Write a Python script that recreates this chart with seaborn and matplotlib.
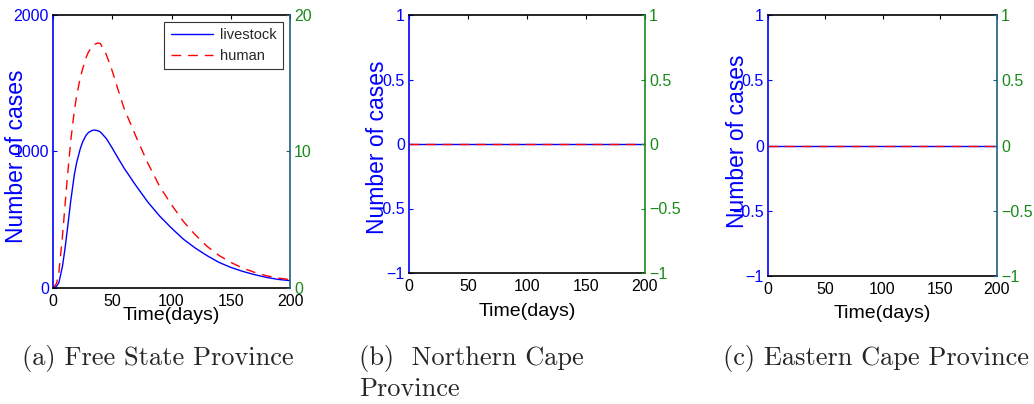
import numpy as np
import pandas as pd
import seaborn as sns
import matplotlib
matplotlib.use("Agg")
import matplotlib.pyplot as plt

# ---- data ----
time_days = [0, 3, 5, 8, 10, 12, 15, 18, 20, 23, 25, 28, 30, 33, 35, 38, 40, 45, 50, 55,
             60, 70, 80, 90, 100, 110, 120, 130, 140, 150, 160, 170, 180, 190, 200]
fs_livestock = [0, 12, 40, 160, 280, 420, 640, 830, 920, 1020, 1070, 1120, 1140, 1154,
                1157, 1152, 1143, 1095, 1025, 950, 878, 750, 630, 527, 439, 358, 293,
                237, 188, 151, 122, 98, 78, 63, 54]
fs_human = [0, 34, 120, 380, 590, 800, 1080, 1300, 1410, 1540, 1605, 1690, 1730, 1770,
            1785, 1795, 1790, 1710, 1590, 1450, 1315, 1110, 915, 744, 610, 488, 390,
            305, 239, 188, 146, 115, 90, 73, 61]
nc_livestock = [0] * len(time_days)
nc_human = [0] * len(time_days)
ec_livestock = [0] * len(time_days)
ec_human = [0] * len(time_days)

captions = ["(a) Free State Province", "(b)  Northern Cape", "Province", "(c) Eastern Cape Province"]
xticks = [0, 50, 100, 150, 200]

sns.set_theme(style="white")
plt.rcParams['font.family'] = ['Liberation Sans', 'DejaVu Sans']
plt.rcParams['axes.unicode_minus'] = True

fig = plt.figure(figsize=(10.34, 4.04), dpi=100)
W, H = 1034, 404

def rect(l, r, t, b):
    return [l / W, 1 - b / H, (r - l) / W, (b - t) / H]

pm = ["\u22121", "\u22120.5", "0", "0.5", "1"]
panels = [
    dict(rect=rect(53, 290, 15, 288), live=fs_livestock, hum=fs_human,
         ylim=(0, 2000), yt=[0, 1000, 2000], ytl=["0", "1000", "2000"],
         rlim=(0, 20), rt=[0, 10, 20], rtl=["0", "10", "20"],
         lab=(17, 156), xlab_y=315, rspine="#1f5f7f", legend=True),
    dict(rect=rect(409, 645, 15, 273), live=nc_livestock, hum=nc_human,
         ylim=(-1, 1), yt=[-1, -0.5, 0, 0.5, 1], ytl=pm,
         rlim=(-1, 1), rt=[-1, -0.5, 0, 0.5, 1], rtl=pm,
         lab=(378, 147), xlab_y=312, rspine="#1a8a1a", legend=False),
    dict(rect=rect(768, 997, 15, 276), live=ec_livestock, hum=ec_human,
         ylim=(-1, 1), yt=[-1, -0.5, 0, 0.5, 1], ytl=pm,
         rlim=(-1, 1), rt=[-1, -0.5, 0, 0.5, 1], rtl=pm,
         lab=(737, 141), xlab_y=313, rspine="#1f5f7f", legend=False),
]

blue = "#0000ff"
green = "#1a8a1a"
TFS = 11.5
for p in panels:
    ax = fig.add_axes(p["rect"])
    df = pd.DataFrame({"t": time_days, "livestock": p["live"], "human": p["hum"]})
    sns.lineplot(data=df, x="t", y="livestock", ax=ax, color=blue, lw=1.0, label="livestock")
    sns.lineplot(data=df, x="t", y="human", ax=ax, color="#ff0000", lw=1.0,
                 linestyle=(0, (7, 5)), label="human")
    ax.set_xlim(0, 200)
    ax.set_ylim(*p["ylim"])
    ax.set_xticks(xticks)
    ax.set_xticklabels([str(v) for v in xticks], fontsize=TFS, color="black")
    ax.set_yticks(p["yt"])
    ax.set_yticklabels(p["ytl"], fontsize=TFS, color=blue)
    ax.tick_params(axis="x", direction="in", length=3, width=0.8, top=True, pad=4, colors="black")
    ax.tick_params(axis="y", direction="in", length=3, width=0.8, pad=3, colors=blue)
    for s in ["top", "bottom"]:
        ax.spines[s].set_color("black")
        ax.spines[s].set_linewidth(1.2)
    ax.spines["left"].set_color(blue)
    ax.spines["left"].set_linewidth(1.2)
    ax.spines["right"].set_visible(False)
    ax.set_ylabel("")
    ax.set_xlabel("")
    fig.text(p["lab"][0] / W, 1 - p["lab"][1] / H, "Number of cases", fontsize=16.5,
             color=blue, rotation=90, ha="center", va="center")
    cx = p["rect"][0] + p["rect"][2] / 2
    fig.text(cx, 1 - p["xlab_y"] / H, "Time(days)", fontsize=14, color="black",
             ha="center", va="center")
    if p["legend"]:
        leg = ax.legend(loc="upper right", fontsize=10.5, frameon=True, fancybox=False,
                        edgecolor="black", handlelength=2.9, borderpad=0.45,
                        labelspacing=0.45, borderaxespad=0.45, handletextpad=0.5)
        leg.get_frame().set_linewidth(0.8)
    else:
        ax.get_legend().remove()

    ax2 = ax.twinx()
    ax2.set_ylim(*p["rlim"])
    ax2.set_yticks(p["rt"])
    ax2.set_yticklabels(p["rtl"], fontsize=TFS)
    ax2.tick_params(axis="y", direction="in", length=3, width=0.8, colors=p["rspine"], pad=3)
    for lbl in ax2.get_yticklabels():
        lbl.set_color(green)
    for s in ["top", "bottom", "left"]:
        ax2.spines[s].set_visible(False)
    ax2.spines["right"].set_color(p["rspine"])
    ax2.spines["right"].set_linewidth(1.2)
    ax2.grid(False)

# captions
CFS = 19
fig.text(22 / W, 1 - 358 / H, captions[0], fontsize=CFS, family="cmr10", va="center", ha="left")
fig.text(359 / W, 1 - 358 / H, captions[1], fontsize=CFS, family="cmr10", va="center", ha="left")
fig.text(359 / W, 1 - 389 / H, captions[2], fontsize=CFS, family="cmr10", va="center", ha="left")
fig.text(723 / W, 1 - 358 / H, captions[3], fontsize=CFS, family="cmr10", va="center", ha="left")

fig.savefig("out.png", dpi=100)
